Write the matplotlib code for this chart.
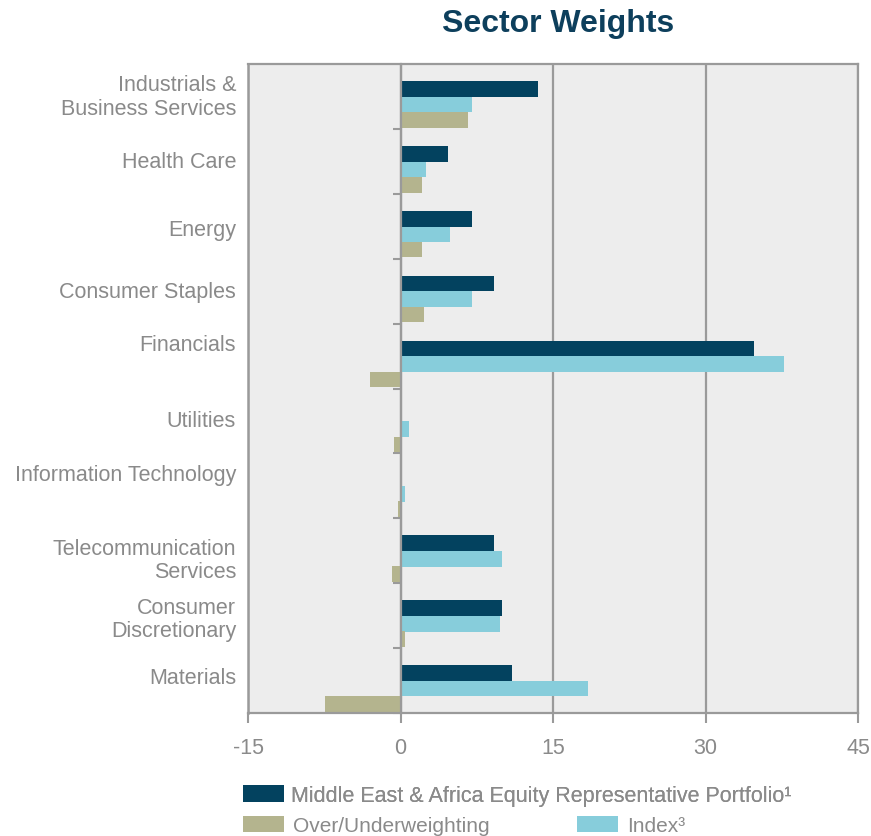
import matplotlib
matplotlib.use('Agg')
import matplotlib.pyplot as plt
import numpy as np
from matplotlib.transforms import blended_transform_factory

plt.rcParams['font.family'] = ['Liberation Sans', 'DejaVu Sans']

# ---- data ----
categories = ["Industrials &\nBusiness Services", "Health Care", "Energy",
              "Consumer Staples", "Financials", "Utilities",
              "Information Technology", "Telecommunication\nServices",
              "Consumer\nDiscretionary", "Materials"]
portfolio = [13.5, 4.7, 7.05, 9.2, 34.8, 0.0, 0.0, 9.2, 10.0, 10.95]
index_w = [7.05, 2.55, 4.9, 7.05, 37.7, 0.8, 0.4, 10.0, 9.8, 18.4]
over_under = [6.6, 2.15, 2.15, 2.35, -3.0, -0.6, -0.2, -0.85, 0.4, -7.45]
x_ticks = [-15, 0, 15, 30, 45]
x_tick_labels = ["-15", "0", "15", "30", "45"]
series_names = ["Middle East & Africa Equity Representative Portfolio\u00b9",
                "Over/Underweighting", "Index\u00b3"]

# ---- style / layout ----
C_DARK = '#03425F'
C_LIGHT = '#87CDDB'
C_KHAKI = '#B4B48E'
C_GRID = '#9A9A9A'
C_TEXT = '#8A8A8A'
label_offsets = [0.0, 0.0, 0.05, 0.0, -0.18, 0.0, -0.17, 0.14, 0.05, -0.05]

W, H = 871, 837
fig = plt.figure(figsize=(W / 100, H / 100), dpi=100)
ax = fig.add_axes([248 / W, 1 - 714 / H, 610 / W, 649 / H])
ax.set_facecolor('#EDEDED')

pos = np.arange(len(categories))
bh = 0.24
b_dark = ax.barh(pos + 0.385, portfolio, height=bh, color=C_DARK, zorder=3)
b_light = ax.barh(pos + 0.625, index_w, height=bh, color=C_LIGHT, zorder=3)
b_khaki = ax.barh(pos + 0.86, over_under, height=bh, color=C_KHAKI, zorder=3)

ax.set_xlim(-15, 45)
ax.set_ylim(len(categories), 0)
ax.set_xticks(x_ticks)
ax.set_xticklabels(x_tick_labels)
ax.xaxis.grid(True, color=C_GRID, lw=1.6, zorder=1)
ax.set_axisbelow(True)

for s in ax.spines.values():
    s.set_color(C_GRID)
    s.set_linewidth(1.6)
    s.set_zorder(4)
ax.spines['left'].set_position(('data', 0))
ax.axvline(-15, color=C_GRID, lw=1.8, clip_on=False, zorder=4)

ax.set_yticks(np.arange(1, len(categories) + 1))
ax.tick_params(axis='y', length=6, width=1.5, color=C_GRID, labelleft=False)
ax.tick_params(axis='x', length=7, width=1.5, color=C_GRID, labelcolor=C_TEXT,
               labelsize=15.5, pad=10)

trans = blended_transform_factory(fig.transFigure, ax.transData)
for i, (lab, off) in enumerate(zip(categories, label_offsets)):
    ax.text(236 / W, i + 0.5 + off, lab, transform=trans, ha='right', va='center',
            fontsize=15.5, color=C_TEXT, linespacing=1.15, multialignment='right')

fig.text(558 / W, 1 - 24 / H, 'Sector Weights', ha='center', va='center',
         fontsize=23, fontweight='bold', color='#0D3F5C')

leg1 = fig.legend([b_dark], [series_names[0]], loc='upper left',
                  bbox_to_anchor=(243 / W, 1 - 786 / H), frameon=False,
                  fontsize=15.5, handlelength=1.9, handleheight=0.8,
                  handletextpad=0.35, borderpad=0, borderaxespad=0,
                  labelcolor=C_TEXT)
leg2 = fig.legend([b_khaki, b_light], [series_names[1], series_names[2]],
                  loc='upper left', ncol=2,
                  bbox_to_anchor=(243 / W, 1 - 817 / H), frameon=False,
                  fontsize=15, handlelength=1.95, handleheight=0.8,
                  handletextpad=0.45, columnspacing=4.2, borderpad=0,
                  borderaxespad=0, labelcolor=C_TEXT)
fig.add_artist(leg1)

fig.savefig('out.png', dpi=100, facecolor='white')
